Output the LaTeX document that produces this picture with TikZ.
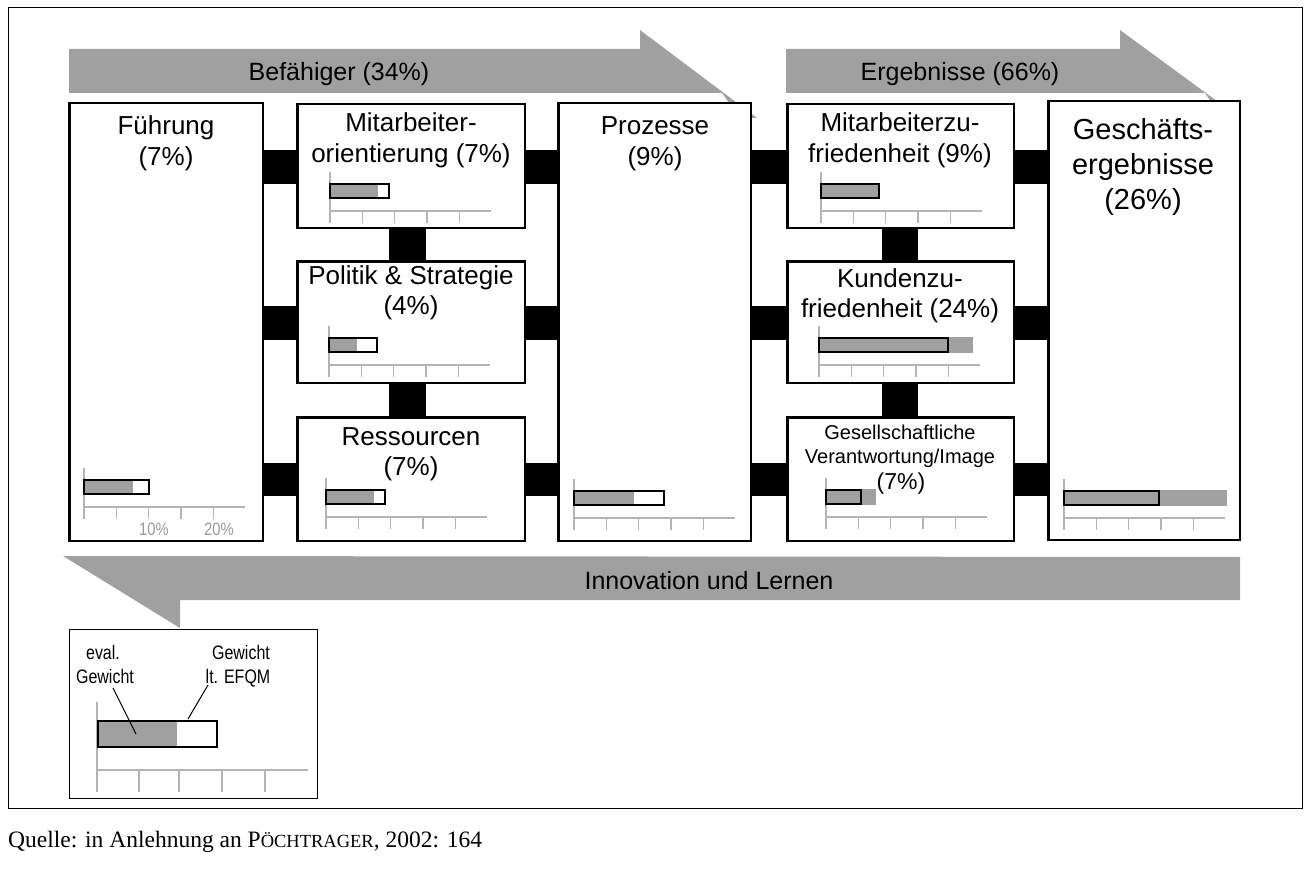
\documentclass[tikz,border=0pt]{standalone}
\usepackage{fontspec}
\setmainfont{Liberation Sans}
\newfontfamily\serifQ{Liberation Serif}
\newfontfamily\narrowF[FakeStretch=0.82]{Liberation Sans}
\definecolor{arrgray}{HTML}{A0A0A0}
\definecolor{axgray}{HTML}{B4B4B4}
\definecolor{lblgray}{HTML}{9A9A9A}
\tikzset{
  box/.style={draw=black, line width=2.5pt, fill=white, inner sep=0pt, rectangle},
  conn/.style={fill=black},
  band/.style={fill=arrgray},
  lbl/.style={inner sep=0pt, anchor=base, font=\fontsize{26}{30}\selectfont},
  arrlbl/.style={inner sep=0pt, anchor=base, font=\fontsize{25}{30}\selectfont},
  biglbl/.style={inner sep=0pt, anchor=base, font=\fontsize{29}{34}\selectfont},
  smlbl/.style={inner sep=0pt, anchor=base, font=\fontsize{20}{24}\selectfont},
  narrowlbl/.style={inner sep=0pt, anchor=base, font=\narrowF\fontsize{19.5}{22}\selectfont},
  axis/.style={draw=axgray, line width=1.4pt},
  barout/.style={draw=black, line width=2.6pt},
  barfill/.style={fill=arrgray},
  leader/.style={draw=black, line width=1pt}
}
% #1 axis x, #2 axis y, #3 gray end, #4 outline end
\newcommand\miniChart[4]{%
  \fill[barfill] (#1,#2-28) rectangle (#3,#2-12);
  \draw[axis] (#1,#2-39) -- (#1,#2+12);
  \draw[axis] (#1,#2) -- (#1+161,#2);
  \foreach \k in {1,2,3,4} {\draw[axis] (#1+\k*32.3,#2) -- (#1+\k*32.3,#2+12);}
  \draw[barout] (#1,#2-27) rectangle (#4,#2-13);
}
\begin{document}
\begin{tikzpicture}[x=1pt,y=-1pt]
\useasboundingbox (0,0) rectangle (1310,872);
\draw[line width=1pt] (8,8) rectangle (1302,808);

% arrows
\fill[band] (69,49) -- (640,49) -- (640,30) -- (757,118) -- (740,118) -- (722,93) -- (69,93) -- cycle;
\fill[band] (786,49) -- (1120,49) -- (1120,30) -- (1240,118) -- (1222,118) -- (1205,93) -- (786,93) -- cycle;
\fill[band] (1240,557) -- (1240,600) -- (180,600) -- (180,628) -- (63,556) -- cycle;
\node[arrlbl] (tbef) at (339,81) {Befähiger (34\%)};
\node[arrlbl] (terg) at (960,81) {Ergebnisse (66\%)};
\node[arrlbl] (tinn) at (709,589) {Innovation und Lernen};

% boxes
\node[box, minimum width=193.5pt, minimum height=437.5pt] (fue) at (166,322) {};
\node[box, minimum width=227.5pt, minimum height=123.5pt] (mo) at (411,166) {};
\node[box, minimum width=227.5pt, minimum height=121.5pt] (ps) at (411,322) {};
\node[box, minimum width=227.5pt, minimum height=123.5pt] (res) at (411,479) {};
\node[box, minimum width=192.5pt, minimum height=437.5pt] (pro) at (654.5,322) {};
\node[box, minimum width=226.5pt, minimum height=123.5pt] (mz) at (900.5,166) {};
\node[box, minimum width=226.5pt, minimum height=121.5pt] (kz) at (900.5,322) {};
\node[box, minimum width=226.5pt, minimum height=123.5pt] (gv) at (900.5,479) {};
\node[box, minimum width=191.5pt, minimum height=438.5pt] (ge) at (1144,320.5) {};

% connectors
\foreach \a/\b in {fue/mo, mo/pro, pro/mz, mz/ge}
  {\fill[conn] (\a.east |- 0,150) rectangle (\b.west |- 0,184);}
\foreach \a/\b in {fue/ps, ps/pro, pro/kz, kz/ge}
  {\fill[conn] (\a.east |- 0,306) rectangle (\b.west |- 0,340);}
\foreach \a/\b in {fue/res, res/pro, pro/gv, gv/ge}
  {\fill[conn] (\a.east |- 0,463) rectangle (\b.west |- 0,496);}
\fill[conn] (389,0 |- mo.south) rectangle (426,0 |- ps.north);
\fill[conn] (389,0 |- ps.south) rectangle (426,0 |- res.north);
\fill[conn] (882,0 |- mz.south) rectangle (918,0 |- kz.north);
\fill[conn] (882,0 |- kz.south) rectangle (918,0 |- gv.north);

% texts
\node[lbl] (fue1) at (166,135) {Führung};
\node[lbl] (fue2) at (166,166) {(7\%)};
\node[lbl] (mo1) at (411,132) {Mitarbeiter-};
\node[lbl] (mo2) at (411,163) {orientierung (7\%)};
\node[lbl] (ps1) at (411,284) {Politik \& Strategie};
\node[lbl] (ps2) at (411,314) {(4\%)};
\node[lbl] (res1) at (411,445) {Ressourcen};
\node[lbl] (res2) at (411,475) {(7\%)};
\node[lbl] (pro1) at (655,135) {Prozesse};
\node[lbl] (pro2) at (655,166) {(9\%)};
\node[lbl] (mz1) at (900,132) {Mitarbeiterzu-};
\node[lbl] (mz2) at (900,163) {friedenheit (9\%)};
\node[lbl] (kz1) at (900,287) {Kundenzu-};
\node[lbl] (kz2) at (900,317) {friedenheit (24\%)};
\node[smlbl] (gv1) at (900,439) {Gesellschaftliche};
\node[smlbl] (gv2) at (900,463) {Verantwortung/Image};
\node[inner sep=0pt, anchor=base, font=\fontsize{23}{27}\selectfont] (gv3) at (901,489) {(7\%)};
\node[biglbl] (ge1) at (1143,140) {Geschäfts-};
\node[biglbl] (ge2) at (1143,175) {ergebnisse};
\node[biglbl] (ge3) at (1143,210) {(26\%)};

% charts
\miniChart{84}{507}{133}{149}
\node[inner sep=0pt, anchor=base, text=lblgray, font=\narrowF\fontsize{18}{20}\selectfont] (p10) at (154,535) {10\%};
\node[inner sep=0pt, anchor=base, text=lblgray, font=\narrowF\fontsize{18}{20}\selectfont] (p20) at (219,535) {20\%};
\miniChart{330}{211}{378}{389}
\miniChart{329}{365}{357}{377}
\miniChart{326}{517}{374}{385}
\miniChart{574}{518}{634}{664}
\miniChart{821}{211}{879}{879}
\miniChart{819}{365}{973}{948}
\miniChart{826}{517}{876}{861}
\miniChart{1064}{518}{1227}{1159}

% legend
\node[draw=black, line width=1pt, minimum width=248pt, minimum height=169pt, inner sep=0pt] (leg) at (193,713.5) {};
\fill[barfill] (97,720) rectangle (177,748);
\draw[axis] (97,702) -- (97,792);
\draw[axis] (97,770) -- (308,770);
\foreach \t in {139,179,222,265} {\draw[axis] (\t,770) -- (\t,792);}
\draw[barout] (98,721) rectangle (217,747);
\node[narrowlbl] (l1) at (103,659) {eval.};
\node[narrowlbl] (l2) at (105,683) {Gewicht};
\node[narrowlbl] (l3) at (241,659) {Gewicht};
\node[narrowlbl] (l4) at (238,683) {lt. EFQM};
\coordinate (c1) at (136,734);
\coordinate (c2) at (188,719);
\draw[leader] (113,688) -- (c1);
\draw[leader] (208,685) -- (c2);

% source
\node[inner sep=0pt, anchor=base west, font=\serifQ\fontsize{23.5}{27}\selectfont] (src) at (8,847) {Quelle: in Anlehnung an P{\fontsize{18.5}{20}\selectfont ÖCHTRAGER}, 2002: 164};
\end{tikzpicture}
\end{document}
